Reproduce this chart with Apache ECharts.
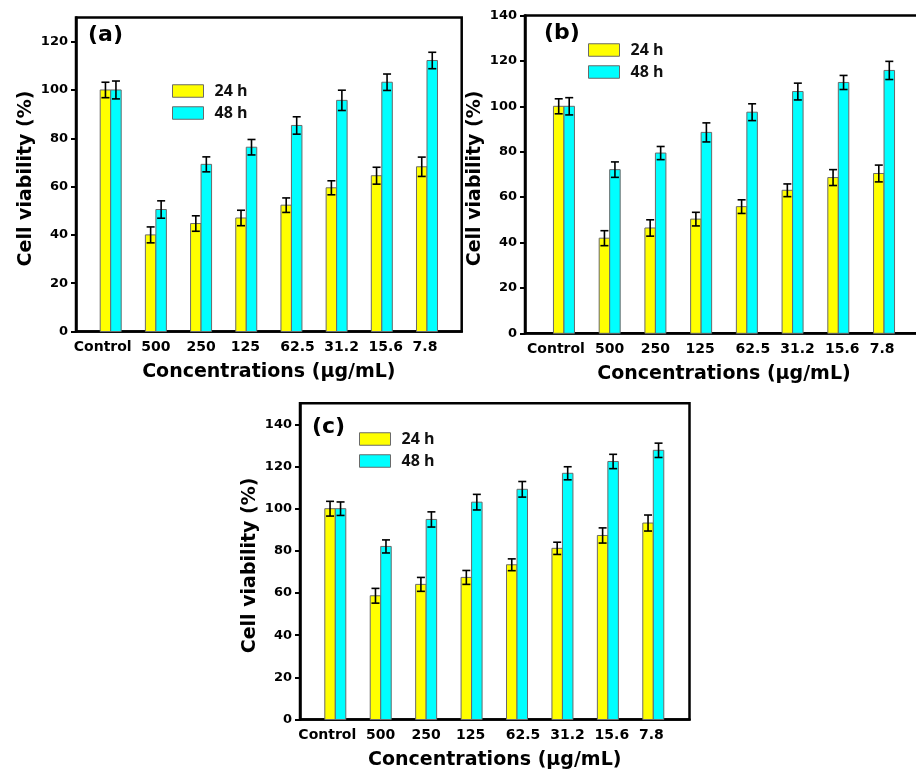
<!DOCTYPE html>
<html>
<head>
<meta charset="utf-8">
<script src="https://cdn.jsdelivr.net/npm/echarts@6/dist/echarts.min.js"></script>
<style>
html,body{margin:0;padding:0;background:#fff;}
#chart{width:916px;height:780px;}
</style>
</head>
<body>
<div id="chart"></div>
<script>
// ---- data ----
const categories = ['Control', '500', '250', '125', '62.5', '31.2', '15.6', '7.8'];
const seriesNames = ['24 h', '48 h'];
const yTicksA = [0, 20, 40, 60, 80, 100, 120];
const yTicksB = [0, 20, 40, 60, 80, 100, 120, 140];
const yTicksC = [0, 20, 40, 60, 80, 100, 120, 140];

const a24 = [100, 40, 44.7, 47, 52.3, 59.5, 64.5, 68.2];
const a24Err = [3.2, 3.3, 3.2, 3.2, 3.0, 2.9, 3.5, 4.0];
const a48 = [100, 50.5, 69.2, 76.3, 85.3, 95.7, 103.2, 112.2];
const a48Err = [3.7, 3.6, 3.1, 3.2, 3.6, 4.2, 3.4, 3.4];

const b24 = [100, 41.9, 46.4, 50.3, 55.8, 63.0, 68.6, 70.4];
const b24Err = [3.3, 3.3, 3.6, 3.0, 3.0, 2.8, 3.5, 3.7];
const b48 = [100, 72.1, 79.4, 88.5, 97.4, 106.5, 110.5, 115.8];
const b48Err = [3.8, 3.4, 2.9, 4.2, 3.7, 3.7, 3.1, 4.0];

const c24 = [100, 58.7, 64.1, 67.4, 73.4, 81.2, 87.3, 93.2];
const c24Err = [3.5, 3.5, 3.3, 3.3, 2.8, 2.9, 3.6, 3.8];
const c48 = [100, 82.1, 94.9, 103.1, 109.2, 116.8, 122.4, 127.7];
const c48Err = [3.2, 3.1, 3.6, 3.7, 3.7, 3.1, 3.4, 3.4];

// ---- layout / style ----
const FONT = 'DejaVu Sans';
const YELLOW = '#ffff00';
const CYAN = '#00ffff';
const BAR_W = 10.5;
const CAP_W = 8;
const labelShift = [-8, 0, 0, -1, 6, 5, 4, -2];

const panels = [
  { grid: { left: 76, top: 17.5, width: 385.7, height: 314 }, xMin: -0.768, xMax: 7.768, yMax: 130, ticks: yTicksA,
    tag: '(a)', tagPos: [88, 24], legendPos: [172, 83], d24: a24, e24: a24Err, d48: a48, e48: a48Err },
  { grid: { left: 525, top: 15.5, width: 398, height: 317.8 }, xMin: -0.852, xMax: 7.852, yMax: 140, ticks: yTicksB,
    tag: '(b)', tagPos: [544, 22], legendPos: [588, 42], d24: b24, e24: b24Err, d48: b48, e48: b48Err },
  { grid: { left: 300, top: 403.3, width: 389.5, height: 316.2 }, xMin: -0.777, xMax: 7.797, yMax: 150, ticks: yTicksC,
    tag: '(c)', tagPos: [312, 416], legendPos: [359, 431], d24: c24, e24: c24Err, d48: c48, e48: c48Err }
];

const rich = {};
labelShift.forEach((s, i) => {
  rich['s' + i] = {
    fontFamily: FONT, fontWeight: 'bold', fontSize: 14, color: '#000',
    padding: s < 0 ? [0, -2 * s, 0, 0] : [0, 0, 0, 2 * s]
  };
});

function makeRender(side, color) {
  return function (params, api) {
    const x = api.value(0), v = api.value(1), e = api.value(2);
    const base = api.coord([x, 0]);
    const top = api.coord([x, v]);
    const hi = api.coord([x, v + e])[1];
    const lo = api.coord([x, v - e])[1];
    const cx = base[0] + side * BAR_W / 2;
    return {
      type: 'group',
      children: [
        { type: 'rect', shape: { x: cx - BAR_W / 2, y: top[1], width: BAR_W, height: base[1] - top[1] },
          style: { fill: color, stroke: '#6a6a6a', lineWidth: 1 } },
        { type: 'line', shape: { x1: cx, y1: hi, x2: cx, y2: lo }, style: { stroke: '#000', lineWidth: 1.6 } },
        { type: 'line', shape: { x1: cx - CAP_W / 2, y1: hi, x2: cx + CAP_W / 2, y2: hi }, style: { stroke: '#000', lineWidth: 1.6 } },
        { type: 'line', shape: { x1: cx - CAP_W / 2, y1: lo, x2: cx + CAP_W / 2, y2: lo }, style: { stroke: '#000', lineWidth: 1.6 } }
      ]
    };
  };
}

const option = {
  backgroundColor: '#fff',
  animation: false,
  grid: [], xAxis: [], yAxis: [], series: [], legend: [], title: []
};

panels.forEach((p, k) => {
  option.grid.push(Object.assign({
    show: true, borderColor: '#000', borderWidth: 2.5, backgroundColor: 'transparent',
    containLabel: false, outerBoundsMode: 'none'
  }, p.grid));
  option.xAxis.push({
    type: 'value', gridIndex: k, min: p.xMin, max: p.xMax, position: 'bottom',
    splitLine: { show: false },
    axisLine: { show: true, onZero: false, lineStyle: { color: '#000', width: 2.5 } },
    axisTick: { show: false },
    axisLabel: {
      customValues: categories.map((c, i) => i),
      margin: 9,
      fontFamily: FONT, fontWeight: 'bold', fontSize: 14, color: '#000',
      formatter: function (v) {
        const i = Math.round(v);
        return '{s' + i + '|' + categories[i] + '}';
      },
      rich: rich
    },
    name: 'Concentrations (\u03bcg/mL)', nameLocation: 'middle', nameGap: 31,
    nameTextStyle: { fontFamily: FONT, fontWeight: 'bold', fontSize: 19, color: '#000' }
  });
  option.yAxis.push({
    type: 'value', gridIndex: k, min: 0, max: p.yMax, interval: 20, position: 'left',
    splitLine: { show: false },
    axisLine: { show: true, onZero: false, lineStyle: { color: '#000', width: 2.5 } },
    axisTick: { show: true, inside: false, length: 5, customValues: p.ticks, lineStyle: { color: '#000', width: 2 } },
    axisLabel: { customValues: p.ticks, margin: 8, fontFamily: FONT, fontWeight: 'bold', fontSize: 13, color: '#000' },
    name: 'Cell viability (%)', nameLocation: 'middle', nameGap: 40,
    nameTextStyle: { fontFamily: FONT, fontWeight: 'bold', fontSize: 19, color: '#000', padding: [0, 8, 0, 0] }
  });
  option.series.push({
    type: 'custom', name: seriesNames[0], xAxisIndex: k, yAxisIndex: k,
    itemStyle: { color: YELLOW, borderColor: '#6a6a6a', borderWidth: 1 },
    renderItem: makeRender(-1, YELLOW),
    data: p.d24.map((v, i) => [i, v, p.e24[i]])
  });
  option.series.push({
    type: 'custom', name: seriesNames[1], xAxisIndex: k, yAxisIndex: k,
    itemStyle: { color: CYAN, borderColor: '#6a6a6a', borderWidth: 1 },
    renderItem: makeRender(1, CYAN),
    data: p.d48.map((v, i) => [i, v, p.e48[i]])
  });
  option.legend.push({
    orient: 'vertical', left: p.legendPos[0], top: p.legendPos[1], padding: 0,
    itemWidth: 31, itemHeight: 12.5, itemGap: 6, icon: 'rect', selectedMode: false,
    itemStyle: { borderColor: '#6a6a6a', borderWidth: 1 },
    textStyle: { fontFamily: 'Open Sans', fontWeight: 'bold', fontSize: 16, color: '#111', padding: [0, 0, 0, 6] },
    data: seriesNames
  });
  option.title.push({
    text: p.tag, left: p.tagPos[0], top: p.tagPos[1], padding: 0,
    textStyle: { fontFamily: FONT, fontWeight: 'bold', fontSize: 22, color: '#000' }
  });
});

const chart = echarts.init(document.getElementById('chart'), null, { renderer: 'canvas' });
chart.setOption(option);
</script>
</body>
</html>
